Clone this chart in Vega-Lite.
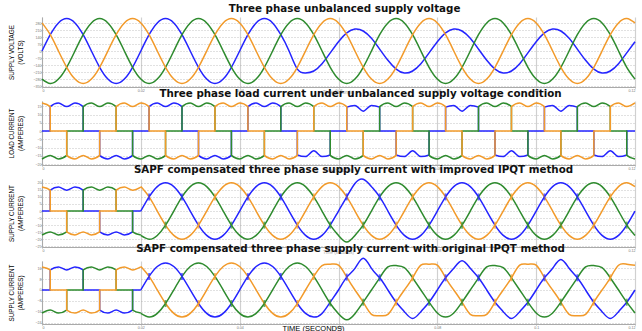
{
"$schema":"https://vega.github.io/schema/vega-lite/v6.json",
"padding":{"left":8,"top":4,"right":0,"bottom":0},
"background":"white",
"datasets":{
"v":[
{"t":0,"a":0,"b":-281,"c":281},{"t":1.67,"a":163,"b":-325,"c":163},{"t":3.33,"a":281,"b":-281,"c":0},{"t":5,"a":325,"b":-163,"c":-163},{"t":6.67,"a":281,"b":0,"c":-281},{"t":8.33,"a":163,"b":163,"c":-325},{"t":10,"a":0,"b":281,"c":-281},{"t":11.67,"a":-163,"b":325,"c":-163},{"t":13.33,"a":-281,"b":281,"c":0},{"t":15,"a":-325,"b":163,"c":163},{"t":16.67,"a":-281,"b":0,"c":281},{"t":18.33,"a":-163,"b":-163,"c":325},
{"t":20,"a":0,"b":-281,"c":281},{"t":21.67,"a":163,"b":-325,"c":163},{"t":23.33,"a":281,"b":-281,"c":0},{"t":25,"a":325,"b":-163,"c":-163},{"t":26.67,"a":281,"b":0,"c":-281},{"t":28.33,"a":163,"b":163,"c":-325},{"t":30,"a":0,"b":281,"c":-281},{"t":31.67,"a":-163,"b":325,"c":-163},{"t":33.33,"a":-281,"b":281,"c":0},{"t":35,"a":-325,"b":163,"c":163},{"t":36.67,"a":-281,"b":0,"c":281},{"t":38.33,"a":-163,"b":-163,"c":325},
{"t":40,"a":0,"b":-281,"c":281},{"t":41.67,"a":163,"b":-325,"c":163},{"t":43.33,"a":281,"b":-281,"c":0},{"t":45,"a":325,"b":-163,"c":-163},{"t":46.67,"a":281,"b":0,"c":-281},{"t":48.33,"a":163,"b":163,"c":-325},{"t":50,"a":0,"b":281,"c":-281},{"t":51.67,"a":-181,"b":325,"c":-163},{"t":53.33,"a":-220,"b":281,"c":0},{"t":55,"a":-200,"b":163,"c":163},{"t":56.67,"a":-127,"b":0,"c":281},{"t":58.33,"a":-19,"b":-163,"c":325},
{"t":60,"a":93,"b":-281,"c":281},{"t":61.67,"a":181,"b":-325,"c":163},{"t":63.33,"a":220,"b":-281,"c":0},{"t":65,"a":200,"b":-163,"c":-163},{"t":66.67,"a":127,"b":0,"c":-281},{"t":68.33,"a":19,"b":163,"c":-325},{"t":70,"a":-93,"b":281,"c":-281},{"t":71.67,"a":-181,"b":325,"c":-163},{"t":73.33,"a":-220,"b":281,"c":0},{"t":75,"a":-200,"b":163,"c":163},{"t":76.67,"a":-127,"b":0,"c":281},{"t":78.33,"a":-19,"b":-163,"c":325},
{"t":80,"a":93,"b":-281,"c":281},{"t":81.67,"a":181,"b":-325,"c":163},{"t":83.33,"a":220,"b":-281,"c":0},{"t":85,"a":200,"b":-163,"c":-163},{"t":86.67,"a":127,"b":0,"c":-281},{"t":88.33,"a":19,"b":163,"c":-325},{"t":90,"a":-93,"b":281,"c":-281},{"t":91.67,"a":-181,"b":325,"c":-163},{"t":93.33,"a":-220,"b":281,"c":0},{"t":95,"a":-200,"b":163,"c":163},{"t":96.67,"a":-127,"b":0,"c":281},{"t":98.33,"a":-19,"b":-163,"c":325},
{"t":100,"a":93,"b":-281,"c":281},{"t":101.67,"a":181,"b":-325,"c":163},{"t":103.33,"a":220,"b":-281,"c":0},{"t":105,"a":200,"b":-163,"c":-163},{"t":106.67,"a":127,"b":0,"c":-281},{"t":108.33,"a":19,"b":163,"c":-325},{"t":110,"a":-93,"b":281,"c":-281},{"t":111.67,"a":-181,"b":325,"c":-163},{"t":113.33,"a":-220,"b":281,"c":0},{"t":115,"a":-200,"b":163,"c":163},{"t":116.67,"a":-127,"b":0,"c":281},{"t":118.33,"a":-19,"b":-163,"c":325},
{"t":120,"a":93,"b":-281,"c":281}
],
"i":[
{"t":0,"a":0,"b":-17,"c":17},{"t":1.67,"a":0,"b":-14.8,"c":14.8},{"t":1.67,"a":14.8,"b":-14.8,"c":0},{"t":3.33,"a":17,"b":-17,"c":0},{"t":5,"a":14.8,"b":-14.8,"c":0},{"t":5,"a":14.8,"b":0,"c":-14.8},{"t":6.67,"a":17,"b":0,"c":-17},{"t":8.33,"a":14.8,"b":0,"c":-14.8},{"t":8.33,"a":0,"b":14.8,"c":-14.8},{"t":10,"a":0,"b":17,"c":-17},{"t":11.67,"a":0,"b":14.8,"c":-14.8},{"t":11.67,"a":-14.8,"b":14.8,"c":0},{"t":13.33,"a":-17,"b":17,"c":0},{"t":15,"a":-14.8,"b":14.8,"c":0},{"t":15,"a":-14.8,"b":0,"c":14.8},{"t":16.67,"a":-17,"b":0,"c":17},{"t":18.33,"a":-14.8,"b":0,"c":14.8},{"t":18.33,"a":0,"b":-14.8,"c":14.8},
{"t":20,"a":0,"b":-17,"c":17},{"t":21.67,"a":0,"b":-14.8,"c":14.8},{"t":21.67,"a":14.8,"b":-14.8,"c":0},{"t":23.33,"a":17,"b":-17,"c":0},{"t":25,"a":14.8,"b":-14.8,"c":0},{"t":25,"a":14.8,"b":0,"c":-14.8},{"t":26.67,"a":17,"b":0,"c":-17},{"t":28.33,"a":14.8,"b":0,"c":-14.8},{"t":28.33,"a":0,"b":14.8,"c":-14.8},{"t":30,"a":0,"b":17,"c":-17},{"t":31.67,"a":0,"b":14.8,"c":-14.8},{"t":31.67,"a":-14.8,"b":14.8,"c":0},{"t":33.33,"a":-17,"b":17,"c":0},{"t":35,"a":-14.8,"b":14.8,"c":0},{"t":35,"a":-14.8,"b":0,"c":14.8},{"t":36.67,"a":-17,"b":0,"c":17},{"t":38.33,"a":-14.8,"b":0,"c":14.8},{"t":38.33,"a":0,"b":-14.8,"c":14.8},
{"t":40,"a":0,"b":-17,"c":17},{"t":41.67,"a":0,"b":-14.8,"c":14.8},{"t":41.67,"a":14.8,"b":-14.8,"c":0},{"t":43.33,"a":17,"b":-17,"c":0},{"t":45,"a":14.8,"b":-14.8,"c":0},{"t":45,"a":14.8,"b":0,"c":-14.8},{"t":46.67,"a":17,"b":0,"c":-17},{"t":48.33,"a":14.8,"b":0,"c":-14.8},{"t":48.33,"a":0,"b":14.8,"c":-14.8},{"t":50,"a":0,"b":17,"c":-17},{"t":51.67,"a":0,"b":14.8,"c":-14.8},{"t":51.67,"a":-14.5,"b":14.8,"c":0},{"t":53.33,"a":-15.5,"b":17,"c":0},{"t":55,"a":-12,"b":14.8,"c":0},{"t":55,"a":-12,"b":0,"c":14.8},{"t":56.67,"a":-15.5,"b":0,"c":17},{"t":58.33,"a":-14.5,"b":0,"c":14.8},{"t":58.33,"a":0,"b":-14.8,"c":14.8},
{"t":60,"a":0,"b":-17,"c":17},{"t":61.67,"a":0,"b":-14.8,"c":14.8},{"t":61.67,"a":14.5,"b":-14.8,"c":0},{"t":63.33,"a":15.5,"b":-17,"c":0},{"t":65,"a":12,"b":-14.8,"c":0},{"t":65,"a":12,"b":0,"c":-14.8},{"t":66.67,"a":15.5,"b":0,"c":-17},{"t":68.33,"a":14.5,"b":0,"c":-14.8},{"t":68.33,"a":0,"b":14.8,"c":-14.8},{"t":70,"a":0,"b":17,"c":-17},{"t":71.67,"a":0,"b":14.8,"c":-14.8},{"t":71.67,"a":-14.5,"b":14.8,"c":0},{"t":73.33,"a":-15.5,"b":17,"c":0},{"t":75,"a":-12,"b":14.8,"c":0},{"t":75,"a":-12,"b":0,"c":14.8},{"t":76.67,"a":-15.5,"b":0,"c":17},{"t":78.33,"a":-14.5,"b":0,"c":14.8},{"t":78.33,"a":0,"b":-14.8,"c":14.8},
{"t":80,"a":0,"b":-17,"c":17},{"t":81.67,"a":0,"b":-14.8,"c":14.8},{"t":81.67,"a":14.5,"b":-14.8,"c":0},{"t":83.33,"a":15.5,"b":-17,"c":0},{"t":85,"a":12,"b":-14.8,"c":0},{"t":85,"a":12,"b":0,"c":-14.8},{"t":86.67,"a":15.5,"b":0,"c":-17},{"t":88.33,"a":14.5,"b":0,"c":-14.8},{"t":88.33,"a":0,"b":14.8,"c":-14.8},{"t":90,"a":0,"b":17,"c":-17},{"t":91.67,"a":0,"b":14.8,"c":-14.8},{"t":91.67,"a":-14.5,"b":14.8,"c":0},{"t":93.33,"a":-15.5,"b":17,"c":0},{"t":95,"a":-12,"b":14.8,"c":0},{"t":95,"a":-12,"b":0,"c":14.8},{"t":96.67,"a":-15.5,"b":0,"c":17},{"t":98.33,"a":-14.5,"b":0,"c":14.8},{"t":98.33,"a":0,"b":-14.8,"c":14.8},
{"t":100,"a":0,"b":-17,"c":17},{"t":101.67,"a":0,"b":-14.8,"c":14.8},{"t":101.67,"a":14.5,"b":-14.8,"c":0},{"t":103.33,"a":15.5,"b":-17,"c":0},{"t":105,"a":12,"b":-14.8,"c":0},{"t":105,"a":12,"b":0,"c":-14.8},{"t":106.67,"a":15.5,"b":0,"c":-17},{"t":108.33,"a":14.5,"b":0,"c":-14.8},{"t":108.33,"a":0,"b":14.8,"c":-14.8},{"t":110,"a":0,"b":17,"c":-17},{"t":111.67,"a":0,"b":14.8,"c":-14.8},{"t":111.67,"a":-14.5,"b":14.8,"c":0},{"t":113.33,"a":-15.5,"b":17,"c":0},{"t":115,"a":-12,"b":14.8,"c":0},{"t":115,"a":-12,"b":0,"c":14.8},{"t":116.67,"a":-15.5,"b":0,"c":17},{"t":118.33,"a":-14.5,"b":0,"c":14.8},{"t":118.33,"a":0,"b":-14.8,"c":14.8},
{"t":120,"a":0,"b":-17,"c":17}
],
"s3":[
{"t":20,"a":0,"b":-17.3,"c":17.3},{"t":21.67,"a":10,"b":-20,"c":10},{"t":23.33,"a":17.3,"b":-17.3,"c":0},{"t":25,"a":20,"b":-10,"c":-10},{"t":26.67,"a":17.3,"b":0,"c":-17.3},{"t":28.33,"a":10,"b":10,"c":-20},{"t":30,"a":0,"b":17.3,"c":-17.3},{"t":31.67,"a":-10,"b":20,"c":-10},{"t":33.33,"a":-17.3,"b":17.3,"c":0},{"t":35,"a":-20,"b":10,"c":10},{"t":36.67,"a":-17.3,"b":0,"c":17.3},{"t":38.33,"a":-10,"b":-10,"c":20},
{"t":40,"a":0,"b":-17.3,"c":17.3},{"t":41.67,"a":10,"b":-20,"c":10},{"t":43.33,"a":17.3,"b":-17.3,"c":0},{"t":45,"a":20,"b":-10,"c":-10},{"t":46.67,"a":17.3,"b":0,"c":-17.3},{"t":48.33,"a":10,"b":10,"c":-20},{"t":50,"a":0,"b":17.3,"c":-17.3},{"t":51.67,"a":-10,"b":20,"c":-10},{"t":53.33,"a":-17.3,"b":17.3,"c":0},{"t":55,"a":-20,"b":10,"c":10},{"t":56.67,"a":-17.3,"b":0,"c":17.3},{"t":58.33,"a":-10,"b":-10,"c":20},
{"t":60,"a":0,"b":-17.3,"c":17.3},{"t":61.67,"a":10,"b":-22,"c":10},{"t":63.33,"a":19.5,"b":-17.3,"c":0},{"t":65,"a":22.5,"b":-10,"c":-10},{"t":66.67,"a":17.3,"b":0,"c":-17.3},{"t":68.33,"a":10,"b":10,"c":-20},{"t":70,"a":0,"b":17.3,"c":-17.3},{"t":71.67,"a":-10,"b":20,"c":-10},{"t":73.33,"a":-17.3,"b":17.3,"c":0},{"t":75,"a":-20,"b":10,"c":10},{"t":76.67,"a":-17.3,"b":0,"c":17.3},{"t":78.33,"a":-10,"b":-10,"c":20},
{"t":80,"a":0,"b":-17.3,"c":17.3},{"t":81.67,"a":10,"b":-20,"c":10},{"t":83.33,"a":17.3,"b":-17.3,"c":0},{"t":85,"a":20,"b":-10,"c":-10},{"t":86.67,"a":17.3,"b":0,"c":-17.3},{"t":88.33,"a":10,"b":10,"c":-20},{"t":90,"a":0,"b":17.3,"c":-17.3},{"t":91.67,"a":-10,"b":20,"c":-10},{"t":93.33,"a":-17.3,"b":17.3,"c":0},{"t":95,"a":-20,"b":10,"c":10},{"t":96.67,"a":-17.3,"b":0,"c":17.3},{"t":98.33,"a":-10,"b":-10,"c":20},
{"t":100,"a":0,"b":-17.3,"c":17.3},{"t":101.67,"a":10,"b":-20,"c":10},{"t":103.33,"a":17.3,"b":-17.3,"c":0},{"t":105,"a":20,"b":-10,"c":-10},{"t":106.67,"a":17.3,"b":0,"c":-17.3},{"t":108.33,"a":10,"b":10,"c":-20},{"t":110,"a":0,"b":17.3,"c":-17.3},{"t":111.67,"a":-10,"b":20,"c":-10},{"t":113.33,"a":-17.3,"b":17.3,"c":0},{"t":115,"a":-20,"b":10,"c":10},{"t":116.67,"a":-17.3,"b":0,"c":17.3},{"t":118.33,"a":-10,"b":-10,"c":20},
{"t":120,"a":0,"b":-17.3,"c":17.3}
],
"s4":[
{"t":20,"a":0,"b":-17.3,"c":17.3},{"t":21.67,"a":10,"b":-20,"c":10},{"t":23.33,"a":17.3,"b":-17.3,"c":0},{"t":25,"a":20,"b":-10,"c":-10},{"t":26.67,"a":17.3,"b":0,"c":-17.3},{"t":28.33,"a":10,"b":10,"c":-20},{"t":30,"a":0,"b":17.3,"c":-17.3},{"t":31.67,"a":-10,"b":20,"c":-10},{"t":33.33,"a":-17.3,"b":17.3,"c":0},{"t":35,"a":-20,"b":10,"c":10},{"t":36.67,"a":-17.3,"b":0,"c":17.3},{"t":38.33,"a":-10,"b":-10,"c":20},
{"t":40,"a":0,"b":-17.3,"c":17.3},{"t":41.67,"a":10,"b":-20,"c":10},{"t":43.33,"a":17.3,"b":-17.3,"c":0},{"t":45,"a":20,"b":-10,"c":-10},{"t":46.67,"a":17.3,"b":0,"c":-17.3},{"t":48.33,"a":10,"b":10,"c":-20},{"t":50,"a":0,"b":17.3,"c":-17.3},{"t":51.67,"a":-10,"b":20,"c":-10},{"t":53.33,"a":-17.3,"b":17.3,"c":0},{"t":55,"a":-20,"b":10,"c":10},{"t":56.67,"a":-17.3,"b":0,"c":18},{"t":58.33,"a":-9,"b":-10,"c":19},
{"t":60,"a":0,"b":-17.5,"c":18.3},{"t":61.67,"a":9.5,"b":-22,"c":9.5},{"t":63.33,"a":16,"b":-17.5,"c":0},{"t":65,"a":23.5,"b":-9,"c":-9},{"t":66.67,"a":16,"b":0,"c":-18},{"t":68.33,"a":9,"b":9,"c":-19},{"t":70,"a":0,"b":17,"c":-18},{"t":71.67,"a":-9,"b":18,"c":-9},{"t":73.33,"a":-16,"b":16.5,"c":0},{"t":75,"a":-21,"b":9,"c":9},{"t":76.67,"a":-16,"b":0,"c":18.3},{"t":78.33,"a":-9,"b":-9,"c":19},
{"t":80,"a":0,"b":-17,"c":18.3},{"t":81.67,"a":9,"b":-20,"c":9},{"t":83.33,"a":16,"b":-17,"c":0},{"t":85,"a":21.5,"b":-9,"c":-9},{"t":86.67,"a":16,"b":0,"c":-18},{"t":88.33,"a":9,"b":9,"c":-19},{"t":90,"a":0,"b":17,"c":-18},{"t":91.67,"a":-9,"b":18,"c":-9},{"t":93.33,"a":-16,"b":16.5,"c":0},{"t":95,"a":-21,"b":9,"c":9},{"t":96.67,"a":-16,"b":0,"c":18.3},{"t":98.33,"a":-9,"b":-9,"c":19},
{"t":100,"a":0,"b":-17,"c":18.3},{"t":101.67,"a":9,"b":-20,"c":9},{"t":103.33,"a":16,"b":-17,"c":0},{"t":105,"a":22.5,"b":-9,"c":-9},{"t":106.67,"a":16,"b":0,"c":-18},{"t":108.33,"a":9,"b":9,"c":-19},{"t":110,"a":0,"b":17,"c":-18},{"t":111.67,"a":-9,"b":18,"c":-9},{"t":113.33,"a":-16,"b":16.5,"c":0},{"t":115,"a":-21,"b":9,"c":9},{"t":116.67,"a":-16,"b":0,"c":18.3},{"t":118.33,"a":-9,"b":-9,"c":19},
{"t":120,"a":0,"b":-17,"c":18.3}
],
"k3":[
{"t":21.67,"v":10,"p":"a"},{"t":25,"v":-10,"p":"b"},{"t":28.33,"v":10,"p":"a"},{"t":31.67,"v":-10,"p":"c"},{"t":35,"v":10,"p":"c"},{"t":38.33,"v":-10,"p":"b"},
{"t":41.67,"v":10,"p":"a"},{"t":45,"v":-10,"p":"b"},{"t":48.33,"v":10,"p":"a"},{"t":51.67,"v":-10,"p":"c"},{"t":55,"v":10,"p":"c"},{"t":58.33,"v":-10,"p":"b"},
{"t":61.67,"v":10,"p":"a"},{"t":65,"v":-10,"p":"b"},{"t":68.33,"v":10,"p":"a"},{"t":71.67,"v":-10,"p":"c"},{"t":75,"v":10,"p":"c"},{"t":78.33,"v":-10,"p":"b"},
{"t":81.67,"v":10,"p":"a"},{"t":85,"v":-10,"p":"b"},{"t":88.33,"v":10,"p":"a"},{"t":91.67,"v":-10,"p":"c"},{"t":95,"v":10,"p":"c"},{"t":98.33,"v":-10,"p":"b"},
{"t":101.67,"v":10,"p":"a"},{"t":105,"v":-10,"p":"b"},{"t":108.33,"v":10,"p":"a"},{"t":111.67,"v":-10,"p":"c"},{"t":115,"v":10,"p":"c"},{"t":118.33,"v":-10,"p":"b"}
],
"k4":[
{"t":21.67,"v":10,"p":"a"},{"t":25,"v":-10,"p":"b"},{"t":28.33,"v":10,"p":"a"},{"t":31.67,"v":-10,"p":"c"},{"t":35,"v":10,"p":"c"},{"t":38.33,"v":-10,"p":"b"},
{"t":41.67,"v":10,"p":"a"},{"t":45,"v":-10,"p":"b"},{"t":48.33,"v":10,"p":"a"},{"t":51.67,"v":-10,"p":"c"},{"t":55,"v":10,"p":"c"},{"t":58.33,"v":-9.5,"p":"b"},
{"t":61.67,"v":9.5,"p":"a"},{"t":65,"v":-9,"p":"b"},{"t":68.33,"v":9,"p":"a"},{"t":71.67,"v":-9,"p":"c"},{"t":75,"v":9,"p":"c"},{"t":78.33,"v":-9,"p":"b"},
{"t":81.67,"v":9,"p":"a"},{"t":85,"v":-9,"p":"b"},{"t":88.33,"v":9,"p":"a"},{"t":91.67,"v":-9,"p":"c"},{"t":95,"v":9,"p":"c"},{"t":98.33,"v":-9,"p":"b"},
{"t":101.67,"v":9,"p":"a"},{"t":105,"v":-9,"p":"b"},{"t":108.33,"v":9,"p":"a"},{"t":111.67,"v":-9,"p":"c"},{"t":115,"v":9,"p":"c"},{"t":118.33,"v":-9,"p":"b"}
]
},
"vconcat":[
{
"width":593,"height":70,
"title":{"text":"Three phase unbalanced supply voltage","dx":6},
"data":{"name":"v"},
"transform":[{"fold":["a","b","c"],"as":["p","v"]}],
"mark":{"type":"line","interpolate":"natural","strokeWidth":1.5},
"encoding":{
"x":{"field":"t","type":"quantitative","scale":{"domain":[0,120],"nice":false,"zero":false},"axis":{"values":[0,20,40,60,80,100,120],"labelExpr":"format(datum.value/1000,'~g')","title":"Time (seconds)","titleFontSize":4.5,"titleColor":"#aaa","titleX":296,"titleY":2,"titleBaseline":"top"}},
"y":{"field":"v","type":"quantitative","scale":{"domain":[-360,340],"nice":false,"zero":false},"axis":{"values":[-350,-280,-210,-140,-70,0,70,140,210,280],"title":["SUPPLY VOLTAGE","(VOLTS)"],"titleX":-28,"titleY":35}},
"color":{"field":"p","type":"nominal","scale":{"domain":["a","b","c"],"range":["#2424ff","#2e8b2e","#f29a2a"]},"legend":null}
}
},
{
"width":593,"height":64,
"title":{"text":"Three phase load current under unbalanced supply voltage condition","dx":22},
"data":{"name":"i"},
"transform":[{"fold":["a","b","c"],"as":["p","v"]}],
"mark":{"type":"line","interpolate":"monotone","strokeWidth":1.5},
"encoding":{
"x":{"field":"t","type":"quantitative","scale":{"domain":[0,120],"nice":false,"zero":false},"axis":{"values":[0,20,40,60,80,100,120],"labelExpr":"format(datum.value/1000,'~g')","title":"Time (seconds)","titleFontSize":4.5,"titleColor":"#aaa","titleX":296,"titleY":2,"titleBaseline":"top"}},
"y":{"field":"v","type":"quantitative","scale":{"domain":[-20.6,18.2],"nice":false,"zero":false},"axis":{"values":[-20,-15,-10,-5,0,5,10,15],"title":["LOAD CURRENT","(AMPERES)"],"titleX":-28,"titleY":32}},
"color":{"field":"p","type":"nominal","scale":{"domain":["a","b","c"],"range":["#2424ff","#2e8b2e","#f29a2a"]},"legend":null}
}
},
{
"width":593,"height":68,
"title":{"text":"SAPF compensated three phase supply current with improved IPQT method","dx":15},
"layer":[
{"data":{"name":"i"},"transform":[{"filter":"datum.t <= 20"},{"fold":["a","b","c"],"as":["p","v"]}],"mark":{"type":"line","interpolate":"monotone","strokeWidth":1.5}},
{"data":{"name":"s3"},"transform":[{"fold":["a","b","c"],"as":["p","v"]}],"mark":{"type":"line","interpolate":"natural","strokeWidth":1.5}},
{"data":{"name":"k3"},"mark":{"type":"tick","orient":"vertical","size":7,"thickness":1.8}}
],
"encoding":{
"x":{"field":"t","type":"quantitative","scale":{"domain":[0,120],"nice":false,"zero":false},"axis":{"values":[0,20,40,60,80,100,120],"labelExpr":"format(datum.value/1000,'~g')","title":"Time (seconds)","titleFontSize":4.5,"titleColor":"#aaa","titleX":296,"titleY":2,"titleBaseline":"top"}},
"y":{"field":"v","type":"quantitative","scale":{"domain":[-25.5,22.7],"nice":false,"zero":false},"axis":{"values":[-25,-20,-15,-10,-5,0,5,10,15,20],"title":["SUPPLY CURRENT","(AMPERES)"],"titleX":-28,"titleY":34}},
"color":{"field":"p","type":"nominal","scale":{"domain":["a","b","c"],"range":["#2424ff","#2e8b2e","#f29a2a"]},"legend":null}
}
},
{
"width":593,"height":63,
"title":{"text":"SAPF compensated three phase supply current with original IPQT method","dx":12},
"layer":[
{"data":{"name":"i"},"transform":[{"filter":"datum.t <= 20"},{"fold":["a","b","c"],"as":["p","v"]}],"mark":{"type":"line","interpolate":"monotone","strokeWidth":1.5}},
{"data":{"name":"s4"},"transform":[{"fold":["a","b","c"],"as":["p","v"]}],"mark":{"type":"line","interpolate":"natural","strokeWidth":1.5}},
{"data":{"name":"k4"},"mark":{"type":"tick","orient":"vertical","size":7,"thickness":1.8}}
],
"encoding":{
"x":{"field":"t","type":"quantitative","scale":{"domain":[0,120],"nice":false,"zero":false},"axis":{"values":[0,20,40,60,80,100,120],"labelExpr":"format(datum.value/1000,'~g')","title":"TIME (SECONDS)","titleFontSize":7.5,"titleColor":"#000","titleX":271,"titleY":0,"titleBaseline":"top"}},
"y":{"field":"v","type":"quantitative","scale":{"domain":[-25.1,21.4],"nice":false,"zero":false},"axis":{"values":[-24,-16,-8,0,8,16],"title":["SUPPLY CURRENT","(AMPERES)"],"titleX":-28,"titleY":31.5}},
"color":{"field":"p","type":"nominal","scale":{"domain":["a","b","c"],"range":["#2424ff","#2e8b2e","#f29a2a"]},"legend":null}
}
}
],
"spacing":14,
"bounds":"flush",
"config":{
"view":{"stroke":null},
"title":{"font":"DejaVu Sans","fontSize":10.3,"fontWeight":"bold","color":"#111","offset":1},
"axis":{"labelFontSize":3.6,"labelColor":"#777","labelPadding":0,"tickSize":1,"tickColor":"#aaa","domainColor":"#aaa","labelFont":"Liberation Sans","titleFont":"Liberation Sans","titleFontWeight":"normal","titleFontSize":6.3,"titleColor":"#000","titleLineHeight":9,"titleAlign":"center","titleBaseline":"bottom"},
"axisX":{"gridColor":"#d0d0d0","gridWidth":1.2},
"axisY":{"gridColor":"#aaa","gridDash":[1,2],"gridWidth":0.7}
}
}
